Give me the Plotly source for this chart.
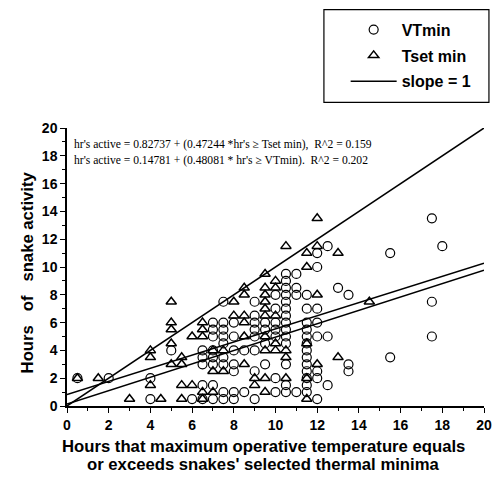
import plotly.graph_objects as go

# VTmin points (circles)
vt_x = ([0.5, 2, 4, 4, 5, 6]
        + [6.5] * 5 + [7] * 8 + [7.5] * 9 + [8] * 7 + [8.5] * 2 + [9] * 8
        + [9.5] * 4 + [10] * 7 + [10.5] * 14 + [11] * 4 + [11.5] * 13
        + [12] * 8 + [12.5] * 3 + [13] + [13.5] * 3 + [15.5] * 2 + [17.5] * 3 + [18])
vt_y = ([2, 2, 2, 0.5, 4, 0.5]
        + [4, 3.5, 3, 1.5, 0.5]
        + [6, 5.5, 5, 4, 3.5, 3, 1.5, 0.5]
        + [7.5, 6, 5.5, 5, 4.5, 3.5, 3, 1, 0.5]
        + [6, 5, 4, 3, 2.5, 1, 0.5]
        + [4, 1]
        + [7.5, 6.5, 6, 5.5, 5, 4, 2.5, 0.5]
        + [6, 5.5, 4.5, 3]
        + [8, 7, 6, 5.5, 5, 2, 1]
        + [9.5, 9, 8.5, 8, 7.5, 7, 6.5, 6, 5.5, 5, 4.5, 3, 1.5, 1]
        + [9.5, 8.5, 8, 1]
        + [8, 7, 6, 5.5, 5, 4.5, 4, 3.5, 3, 2.5, 2, 1.5, 1]
        + [11, 10, 7, 6, 5, 2.5, 2, 0.5]
        + [11.5, 5, 1.5]
        + [8.5]
        + [8, 3, 2.5]
        + [11, 3.5]
        + [13.5, 7.5, 5]
        + [11.5])

# Tset min points (triangles)
tset_x = ([0.5, 1.5, 3] + [4] * 3 + [4.5] + [5] * 5 + [5.5] * 4 + [6] * 2
          + [6.5] * 5 + [7] * 3 + [7.5] * 2 + [8] * 2 + [8.5] * 6 + [9] * 2
          + [9.5] * 10 + [10] * 5 + [10.5] * 4 + [11.5] * 5 + [12] * 4
          + [13] * 2 + [14.5])
tset_y = ([2, 2, 0.5]
          + [4, 3.5, 1.5]
          + [0.5]
          + [7.5, 6, 5.5, 4.5, 3]
          + [3.5, 3, 1.5, 0.5]
          + [5, 1.5]
          + [6, 5.5, 5, 1, 0.5]
          + [4, 2.5, 1]
          + [4, 2.5]
          + [7.5, 6.5]
          + [8.5, 8, 6.5, 6, 5, 3]
          + [2, 1.5]
          + [9.5, 8.5, 8, 7.5, 7, 6.5, 5, 4, 2, 1]
          + [9, 8.5, 6.5, 4.5, 4]
          + [11.5, 4, 3.5, 2]
          + [11, 10, 4.5, 2, 0.5]
          + [13.5, 11.5, 8, 3]
          + [11, 3.5]
          + [7.5])

# regression coefficients (from the chart text)
tset_int, tset_slope = 0.82737, 0.47244
vt_int, vt_slope = 0.14781, 0.48081
line_x = [0, 20]

eq_tset = "hr's active = 0.82737 + (0.47244 *hr's \u2265 Tset min),  R^2 = 0.159"
eq_vt = "hr's active = 0.14781 + (0.48081 * hr's \u2265 VTmin).  R^2 = 0.202"

x_ticks = list(range(0, 21, 2))
y_ticks = list(range(0, 21, 2))

fig = go.Figure()
fig.add_trace(go.Scatter(
    x=vt_x, y=vt_y, mode="markers", name="VTmin", legendgroup="a",
    marker=dict(symbol="circle-open", size=9, color="black", line=dict(width=1.2)),
))
fig.add_trace(go.Scatter(
    x=tset_x, y=tset_y, mode="markers", name="Tset min", legendgroup="b",
    marker=dict(symbol="triangle-up-open", size=9, color="black", line=dict(width=1.5)),
))
fig.add_trace(go.Scatter(
    x=line_x, y=line_x, mode="lines", name="slope = 1", legendgroup="c",
    line=dict(color="black", width=1.5),
))
fig.add_trace(go.Scatter(
    x=line_x, y=[tset_int + tset_slope * v for v in line_x], mode="lines",
    showlegend=False, line=dict(color="black", width=1.5),
))
fig.add_trace(go.Scatter(
    x=line_x, y=[vt_int + vt_slope * v for v in line_x], mode="lines",
    showlegend=False, line=dict(color="black", width=1.5),
))

L, R, T, B = 67, 15, 124, 78
W, H = 504, 484
pw, ph = W - L - R, H - T - B

def px(xpix):
    return (xpix - L) / pw

def py(ypix):
    return (H - B - ypix) / ph

axis_common = dict(
    showgrid=False, zeroline=False, showline=True, linecolor="black", linewidth=1.5,
    ticks="outside", ticklen=5, tickwidth=1.2, tickcolor="black",
    tickfont=dict(family="Liberation Sans", size=14, color="black", weight="bold"),
    minor=dict(ticks="outside", ticklen=3, tickwidth=1, tickcolor="black", dtick=1),
)

title_font = dict(family="Liberation Sans", size=16.7, color="black", weight="bold")

fig.update_layout(
    width=W, height=H,
    margin=dict(l=L, r=R, t=T, b=B),
    paper_bgcolor="white", plot_bgcolor="white",
    xaxis=dict(range=[0, 20], tickvals=x_ticks, **axis_common),
    yaxis=dict(range=[0, 20], tickvals=y_ticks, **axis_common),
    showlegend=True,
    legend=dict(
        x=px(349), y=py(7), xanchor="left", yanchor="top",
        bgcolor="rgba(0,0,0,0)", borderwidth=0,
        font=dict(family="Liberation Sans", size=16, color="black", weight="bold"),
        traceorder="grouped", tracegroupgap=2, itemwidth=46,
    ),
    shapes=[dict(type="rect", xref="paper", yref="paper",
                 x0=px(327), x1=px(494), y0=py(98), y1=py(4),
                 line=dict(color="black", width=1.2))],
    annotations=[
        dict(text=eq_tset, xref="paper", yref="paper", x=px(72), y=py(141),
             xanchor="left", yanchor="middle", showarrow=False,
             font=dict(family="Liberation Serif", size=11.6, color="black")),
        dict(text=eq_vt, xref="paper", yref="paper", x=px(72), y=py(157),
             xanchor="left", yanchor="middle", showarrow=False,
             font=dict(family="Liberation Serif", size=11.6, color="black")),
        dict(text="Hours   of   snake activity", xref="paper", yref="paper",
             x=px(27), y=py(270), textangle=-90, xanchor="center", yanchor="middle",
             showarrow=False, font=title_font),
        dict(text="Hours that maximum operative temperature equals",
             xref="paper", yref="paper", x=px(266), y=py(447),
             xanchor="center", yanchor="middle", showarrow=False, font=title_font),
        dict(text="or exceeds snakes' selected thermal minima",
             xref="paper", yref="paper", x=px(266), y=py(465),
             xanchor="center", yanchor="middle", showarrow=False, font=title_font),
    ],
)

fig.write_html("out.html")
